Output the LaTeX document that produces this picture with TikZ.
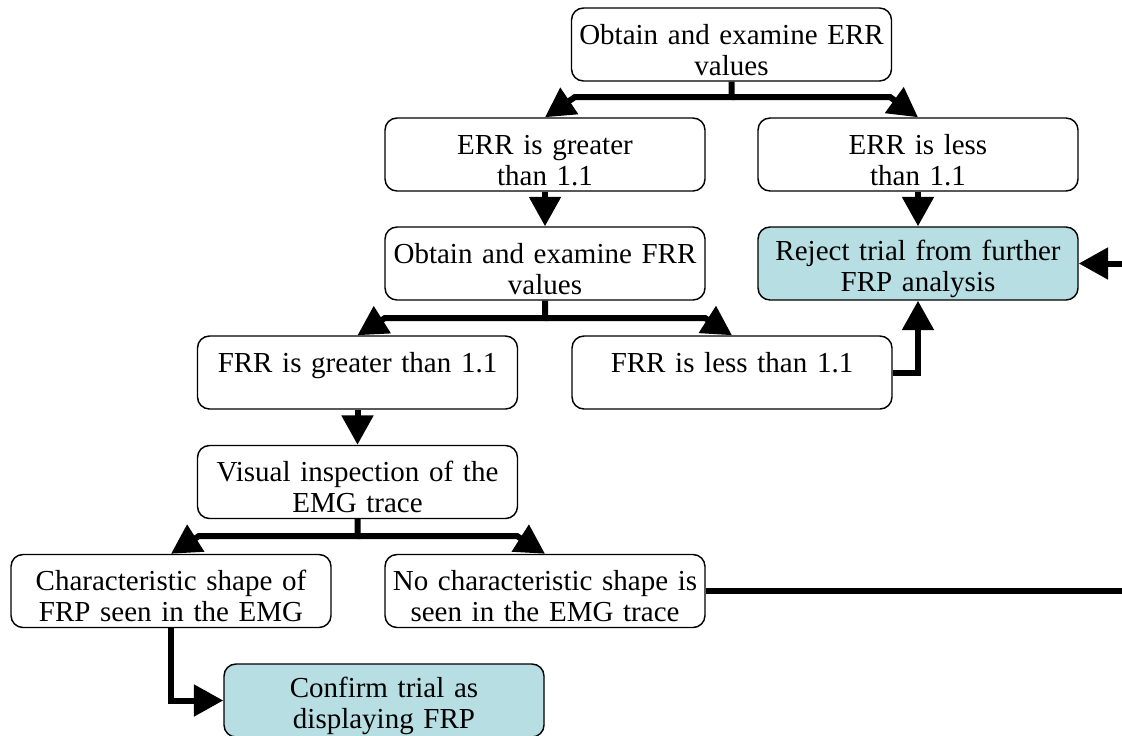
\documentclass[tikz,border=0pt]{standalone}
\usepackage{fontspec}
\setmainfont{Liberation Serif}
\usetikzlibrary{arrows.meta}
\definecolor{boxblue}{RGB}{183,222,227}
\newcommand{\topstrut}{\rule{0pt}{23pt}}
\begin{document}
\begin{tikzpicture}[x=0.75pt,y=-0.75pt,
  box/.style={draw, line width=1.1pt, rounded corners=9pt, fill=white,
    minimum width=240pt, minimum height=54.75pt, inner sep=0pt,
    align=center, text width=236pt,
    font=\fontsize{21.75}{23.25}\selectfont,
    execute at begin node={\topstrut}},
  conn/.style={line width=4.5pt},
  flow/.style={line width=4.5pt, -{Triangle[length=22pt,width=23pt]}}]
\clip (0,0) rectangle (1122,736);
\fill[white] (0,0) rectangle (1122,736);
% boxes
\node[box] (b1) at (731.5,44.5) {Obtain and examine ERR\\values};
\node[box] (errg) at (545,154.5) {ERR is greater\\than 1.1};
\node[box] (errl) at (918,154.5) {ERR is less\\than 1.1};
\node[box] (frrv) at (545,263.5) {Obtain and examine FRR\\values};
\node[box,fill=boxblue] (rej) at (918,263.5) {Reject trial from further\\FRP analysis};
\node[box] (frrg) at (357.5,372.5) {FRR is greater than 1.1\\\mbox{}};
\node[box] (frrl) at (732,372.5) {FRR is less than 1.1\\\mbox{}};
\node[box] (vis) at (357.5,482) {Visual inspection of the\\EMG trace};
\node[box] (char) at (171,591) {Characteristic shape of\\FRP seen in the EMG};
\node[box] (noch) at (545,591) {No characteristic shape is\\seen in the EMG trace};
\node[box,fill=boxblue] (conf) at (384,700.5) {Confirm trial as\\displaying FRP};
% junction coordinates
\coordinate (j1) at (731.5,97);
\coordinate (j1l) at (575,97);
\coordinate (j1r) at (890,97);
\coordinate (j2) at (545,318);
\coordinate (j2l) at (385,318);
\coordinate (j2r) at (705,318);
\coordinate (j3) at (357.5,536);
\coordinate (j3l) at (199,536);
\coordinate (j3r) at (517,536);
\coordinate (edgeA) at (1140,591);
\coordinate (edgeB) at (1140,263.5);
% connectors
\draw[flow] (b1.south) -- (j1) -- (j1l) -- (errg.north);
\draw[flow] (j1) -- (j1r) -- (errl.north);
\draw[flow] (errg.south) -- (frrv.north);
\draw[flow] (errl.south) -- (rej.north);
\draw[flow] (frrv.south) -- (j2) -- (j2l) -- (frrg.north);
\draw[flow] (j2) -- (j2r) -- (frrl.north);
\draw[flow] (frrl.east) -| (rej.south);
\draw[flow] (frrg.south) -- (vis.north);
\draw[flow] (vis.south) -- (j3) -- (j3l) -- (char.north);
\draw[flow] (j3) -- (j3r) -- (noch.north);
\draw[flow] (char.south) |- (conf.west);
\draw[conn] (noch.east) -- (edgeA);
\draw[flow] (edgeB) -- (rej.east);
\end{tikzpicture}
\end{document}
